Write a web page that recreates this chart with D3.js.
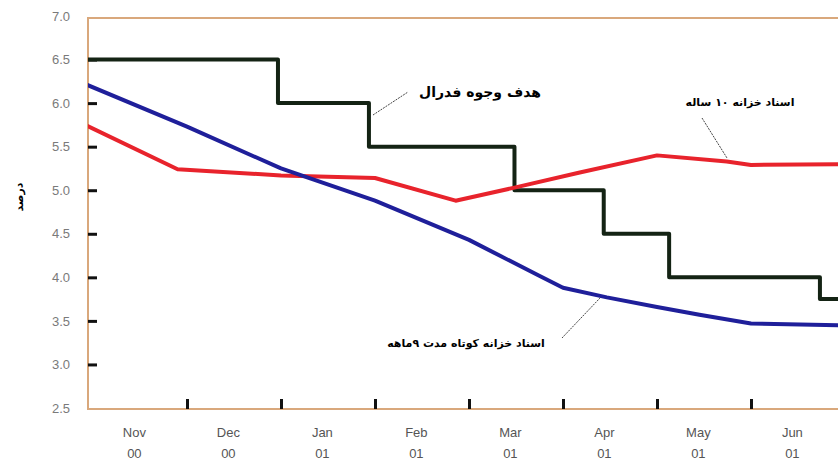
<!DOCTYPE html>
<html lang="en">
  <head>
    <meta charset="UTF-8" />
    <title>Chart</title>
    <style>
      body { margin: 0; background: #fff; }
      .rate { fill: none; stroke-linejoin: round; stroke-linecap: butt; }
      .ytick text { font-family: "Liberation Sans", Arial, sans-serif; font-size: 13px; fill: #7a7a7a; }
      .xlab { font-family: "Liberation Sans", Arial, sans-serif; font-size: 13px; fill: #555; }
      .fa { font-family: "DejaVu Sans", sans-serif; font-weight: bold; fill: #000; }
    </style>
  </head>
  <body>
    <svg></svg>
    <script src="https://cdnjs.cloudflare.com/ajax/libs/d3/7.8.5/d3.min.js"></script>
    <script>
      // month labels along the bottom
      const months = ["Nov", "Dec", "Jan", "Feb", "Mar", "Apr", "May", "Jun"];
      const years = ["00", "00", "01", "01", "01", "01", "01", "01"];
      const yTicks = [2.5, 3.0, 3.5, 4.0, 4.5, 5.0, 5.5, 6.0, 6.5, 7.0];

      // federal funds target (step line)
      const fedDates = ["2000-10-30", "2000-12-31", "2001-01-30", "2001-03-16", "2001-04-14", "2001-05-05", "2001-06-23", "2001-06-30"];
      const fedRates = [6.5, 6.0, 5.5, 5.0, 4.5, 4.0, 3.75, 3.75];

      // short term treasury bills
      const billDates = ["2000-10-30", "2000-12-01", "2001-01-01", "2001-02-01", "2001-03-01", "2001-03-24", "2001-04-01", "2001-04-15", "2001-05-01", "2001-05-15", "2001-06-01", "2001-06-30"];
      const billRates = [6.21, 5.73, 5.25, 4.88, 4.43, 4.02, 3.88, 3.77, 3.66, 3.57, 3.47, 3.45];

      // 10 year treasury bonds
      const bondDates = ["2000-10-30", "2000-11-28", "2001-01-01", "2001-02-01", "2001-02-25", "2001-03-16", "2001-04-06", "2001-05-01", "2001-05-24", "2001-06-01", "2001-06-30"];
      const bondRates = [5.74, 5.24, 5.17, 5.14, 4.88, 5.03, 5.20, 5.40, 5.33, 5.29, 5.30];

      const W = 838, H = 463;
      const frame = { left: 88, top: 18, right: 842, bottom: 409 };

      // months since 1 Nov 2000
      function monthIndex(s) {
        const p = s.split("-").map(Number);
        const dim = new Date(p[0], p[1], 0).getDate();
        return (p[0] - 2000) * 12 + (p[1] - 11) + (p[2] - 1) / dim;
      }
      function series(dates, rates) {
        return dates.map(function (d, i) {
          return { m: monthIndex(d), v: rates[i] };
        });
      }

      const svg = d3.select("svg").attr("width", W).attr("height", H);

      const x = d3.scaleLinear().domain([0, 8]).range([93, 845]);
      const y = d3.scaleLinear().domain([2.5, 7.0]).range([408, 16]);

      svg.append("clipPath").attr("id", "clippy")
        .append("rect")
        .attr("x", frame.left).attr("y", frame.top)
        .attr("width", frame.right - frame.left)
        .attr("height", frame.bottom - frame.top);

      // frame
      svg.append("rect")
        .attr("x", frame.left).attr("y", frame.top)
        .attr("width", frame.right - frame.left)
        .attr("height", frame.bottom - frame.top)
        .attr("fill", "none")
        .attr("stroke", "#d9a87c")
        .attr("stroke-width", 2);

      // y axis, ticks pointing inward
      const yAxis = svg.append("g")
        .attr("transform", "translate(" + frame.left + ",0)")
        .call(d3.axisLeft(y).tickValues(yTicks).tickSize(-9).tickPadding(18)
          .tickFormat(d3.format(".1f")));
      yAxis.select(".domain").remove();
      yAxis.selectAll(".tick").attr("class", "tick ytick");
      yAxis.selectAll(".tick line")
        .attr("stroke", "#111")
        .attr("stroke-width", 3)
        .attr("display", function (d) { return d === 2.5 || d === 7.0 ? "none" : null; });
      yAxis.selectAll(".tick text").attr("font-family", null).attr("font-size", null);

      // x axis ticks at month boundaries
      const xAxis = svg.append("g")
        .attr("transform", "translate(0," + frame.bottom + ")")
        .call(d3.axisBottom(x).tickValues(d3.range(1, 8)).tickSize(-10).tickFormat(""));
      xAxis.select(".domain").remove();
      xAxis.selectAll(".tick line").attr("stroke", "#111").attr("stroke-width", 3);

      const labels = svg.append("g");
      months.forEach(function (mo, i) {
        const t = labels.append("text")
          .attr("class", "xlab")
          .attr("text-anchor", "middle")
          .attr("x", x(i + 0.44));
        t.append("tspan").attr("x", x(i + 0.44)).attr("y", 437).text(mo);
        t.append("tspan").attr("x", x(i + 0.44)).attr("y", 458).text(years[i]);
      });

      // y title
      svg.append("text")
        .attr("class", "fa")
        .attr("font-size", 11)
        .attr("text-anchor", "middle")
        .attr("transform", "translate(23,197) rotate(-90)")
        .text("درصد");

      const plot = svg.append("g").attr("clip-path", "url(#clippy)");

      const stepLine = d3.line()
        .x(function (d) { return x(d.m); })
        .y(function (d) { return y(d.v); })
        .curve(d3.curveStepAfter);
      const rateLine = d3.line()
        .x(function (d) { return x(d.m); })
        .y(function (d) { return y(d.v); });

      plot.append("path").attr("class", "rate")
        .attr("d", stepLine(series(fedDates, fedRates)))
        .attr("stroke", "#142314").attr("stroke-width", 4);
      plot.append("path").attr("class", "rate")
        .attr("d", rateLine(series(bondDates, bondRates)))
        .attr("stroke", "#e8232c").attr("stroke-width", 4);
      plot.append("path").attr("class", "rate")
        .attr("d", rateLine(series(billDates, billRates)))
        .attr("stroke", "#1f1f9a").attr("stroke-width", 4);

      // annotations with leader lines
      const notes = [
        { text: "هدف وجوه فدرال", size: 14, tx: 480, ty: 97, from: [373, 115], to: [408, 92] },
        { text: "اسناد خزانه ۱۰ ساله", size: 11, tx: 740, ty: 106, from: [702, 118], to: [727, 158] },
        { text: "اسناد خزانه کوتاه مدت ۹ماهه", size: 11, tx: 466, ty: 347, from: [562, 338], to: [600, 298] }
      ];
      notes.forEach(function (n) {
        svg.append("line")
          .attr("x1", n.from[0]).attr("y1", n.from[1])
          .attr("x2", n.to[0]).attr("y2", n.to[1])
          .attr("stroke", "#444").attr("stroke-width", 1)
          .attr("stroke-dasharray", "2,1");
        svg.append("text")
          .attr("class", "fa")
          .attr("font-size", n.size)
          .attr("text-anchor", "middle")
          .attr("direction", "rtl")
          .attr("x", n.tx).attr("y", n.ty)
          .text(n.text);
      });
    </script>
  </body>
</html>
